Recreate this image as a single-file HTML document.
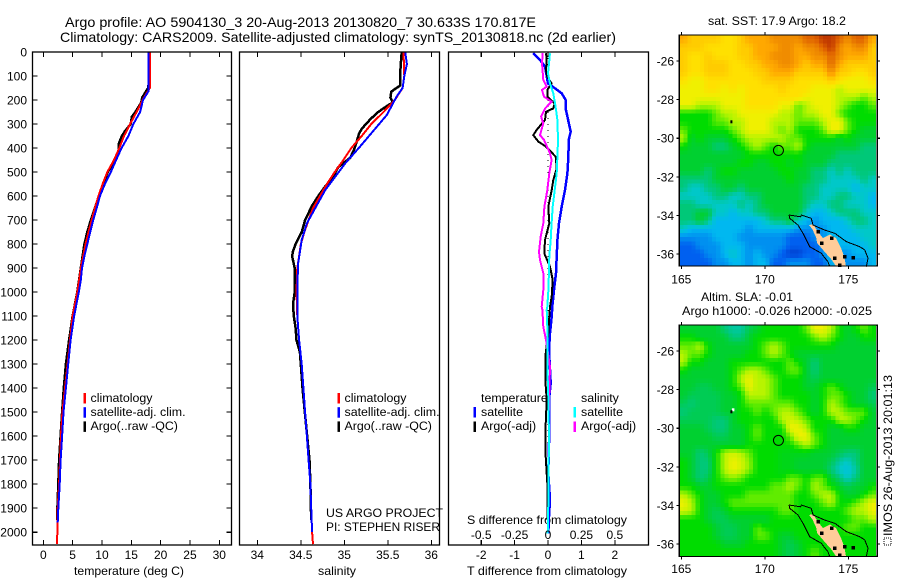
<!DOCTYPE html>
<html>
<head>
<meta charset="utf-8">
<title>Argo profile</title>
<style>
html,body{margin:0;padding:0;background:#fff;width:900px;height:580px;overflow:hidden}
svg{display:block}
text{font-family:"Liberation Sans",sans-serif;font-size:12px;fill:#000}
.lg text{font-size:12.4px}
</style>
</head>
<body>
<svg id="chart" xmlns="http://www.w3.org/2000/svg" width="900" height="580" viewBox="0 0 900 580">
<text x="65" y="27" style="font-size:14px" textLength="471" lengthAdjust="spacingAndGlyphs">Argo profile: AO 5904130_3 20-Aug-2013 20130820_7 30.633S 170.817E</text>
<text x="60" y="42" style="font-size:14px" textLength="556" lengthAdjust="spacingAndGlyphs">Climatology: CARS2009. Satellite-adjusted climatology: synTS_20130818.nc (2d earlier)</text>
<text x="74" y="575" textLength="110" lengthAdjust="spacingAndGlyphs">temperature (deg C)</text>
<text x="318" y="575" textLength="38" lengthAdjust="spacingAndGlyphs">salinity</text>
<text x="467" y="575" textLength="160" lengthAdjust="spacingAndGlyphs">T difference from climatology</text>
<text x="467" y="524" textLength="160" lengthAdjust="spacingAndGlyphs">S difference from climatology</text>
<text x="326" y="517" textLength="117" lengthAdjust="spacingAndGlyphs">US ARGO PROJECT</text>
<text x="326" y="531" textLength="114" lengthAdjust="spacingAndGlyphs">PI: STEPHEN RISER</text>
<text x="708" y="25" textLength="138" lengthAdjust="spacingAndGlyphs">sat. SST: 17.9 Argo: 18.2</text>
<text x="701" y="301" textLength="92" lengthAdjust="spacingAndGlyphs">Altim. SLA: -0.01</text>
<text x="682" y="315" textLength="190" lengthAdjust="spacingAndGlyphs">Argo h1000: -0.026 h2000: -0.025</text>
<text transform="translate(892,536) rotate(-90)" textLength="161" lengthAdjust="spacingAndGlyphs">IMOS 26-Aug-2013 20:01:13</text>
<rect x="884" y="538" width="7" height="7" fill="none" stroke="#000" stroke-width="1" stroke-dasharray="1 1"/>
</svg>
<script>
/* ---------- chart values ---------- */
const depthTicks = [0,100,200,300,400,500,600,700,800,900,1000,1100,1200,1300,1400,1500,1600,1700,1800,1900,2000];
const tempTicks = [0,5,10,15,20,25,30];
const salTicks = [34,34.5,35,35.5,36];
const salTickLabels = ['34','34.5','35','35.5','36'];
const tDiffTicks = [-2,-1,0,1,2];
const sDiffTicks = [-0.5,-0.25,0,0.25,0.5];
const sDiffTickLabels = ['-0.5','-0.25','0','0.25','0.5'];
const lonTicks = [165,170,175];
const latTicks = [-26,-28,-30,-32,-34,-36];

const tempClimDepth = [0,100,150,200,250,300,350,400,450,500,550,600,650,700,750,800,850,900,950,1000,1100,1200,1300,1400,1500,1600,1700,1800,1900,2000,2050];
const tempClim = [18.2,18.2,18.15,16.9,15.9,14.8,13.75,12.95,12.05,10.9,10.1,9.4,8.8,8.25,7.7,7.2,6.8,6.4,6.1,5.8,5.0,4.55,4.15,3.7,3.25,3.0,2.85,2.7,2.45,2.4,2.3];
const tempSatDepth = [0,150,165,200,250,300,350,400,450,500,550,600,650,700,750,800,850,900,950,1000,1100,1200,1300,1400,1500,1600,1700,1800,1900,1960];
const tempSat = [17.9,17.9,17.9,17.0,16.5,15.35,14.5,13.35,12.4,11.5,10.5,9.65,9.1,8.5,8.0,7.5,7.0,6.6,6.4,6.05,5.25,4.65,4.25,3.85,3.45,3.2,2.95,2.8,2.55,2.45];
const tempArgoDepth = [0,100,150,160,190,210,250,270,300,330,350,380,420,450,500,550,600,650,700,750,800,850,900,1000,1100,1200,1300,1400,1500,1600,1700,1800,1900,1950];
const tempArgo = [18.05,18.05,17.9,17.6,16.85,16.7,15.7,15.1,14.9,13.9,13.4,12.9,12.8,12.2,11.0,10.2,9.5,8.8,8.1,7.5,7.0,6.7,6.4,5.8,5.0,4.4,3.85,3.5,3.2,2.95,2.7,2.55,2.4,2.4];

const salClimDepth = [0,100,150,200,250,300,350,400,450,500,550,600,650,700,750,800,850,900,1000,1100,1200,1300,1400,1500,1600,1700,1800,1900,2000,2050];
const salClim = [35.68,35.69,35.67,35.58,35.45,35.31,35.2,35.08,34.99,34.89,34.8,34.72,34.64,34.59,34.54,34.5,34.48,34.46,34.45,34.46,34.48,34.51,34.53,34.55,34.57,34.59,34.61,34.62,34.63,34.64];
const salSatDepth = [0,50,100,150,186,262,394,464,575,713,783,879,977,1100,1200,1300,1400,1500,1600,1700,1800,1900,2000];
const salSat = [35.7,35.72,35.69,35.67,35.6,35.49,35.18,35.01,34.78,34.57,34.51,34.47,34.46,34.46,34.48,34.51,34.53,34.55,34.57,34.59,34.61,34.62,34.63];
const salArgoDepth = [0,50,100,140,150,165,190,210,225,250,280,320,340,400,440,480,520,560,600,640,700,750,800,830,850,900,1000,1050,1100,1150,1200,1250,1300,1400,1700,1800,1950];
const salArgo = [35.66,35.65,35.64,35.64,35.6,35.54,35.53,35.56,35.49,35.39,35.3,35.2,35.17,35.12,35.07,34.93,34.87,34.78,34.7,34.63,34.55,34.51,34.44,34.41,34.4,34.43,34.43,34.41,34.42,34.44,34.45,34.49,34.5,34.52,34.6,34.61,34.62];

const dTSatDepth = [5,33,61,131,151,172,200,242,332,366,436,505,575,644,713,783,921,991,1061,1102,1171,1241,1379,1449,1629,1754,1866,1935,2005];
const dTSat = [-0.44,-0.24,-0.09,0,0.21,0.41,0.53,0.54,0.68,0.62,0.61,0.58,0.51,0.41,0.33,0.28,0.24,0.18,0.13,0.11,0.06,0.03,0.08,0.03,0.03,0.01,0.06,0.03,0.01];
const dTArgoDepth = [5,33,75,103,131,158,186,214,235,249,283,325,346,373,394,436,485,533,575,644,713,783,839,894,949,1019,1061,1102,1171,1269,1366,1449,1588,1685,1796,1852,1950];
const dTArgo = [-0.06,-0.04,-0.06,-0.02,0.11,-0.02,-0.02,0.2,0.16,-0.06,-0.09,-0.34,-0.44,-0.29,-0.06,0.23,0.26,0.16,0.11,0.01,0.04,-0.09,-0.11,0.06,0.14,0.11,0.06,0.04,0.01,-0.08,-0.08,-0.04,-0.08,-0.07,-0.02,-0.02,-0.02];
const dSSatDepth = [5,89,131,172,228,283,366,436,505,575,644,713,783,852,921,991,1061,1074,1144,1311,1449,1588,1727,1866,2005];
const dSSat = [0.015,0,0.015,0.04,0.057,0.07,0.075,0.07,0.065,0.05,0.035,0.027,0.02,0.01,0.007,0.003,-0.005,-0.01,-0.005,-0.005,0.003,0.007,0.005,0.003,-0.002];
const dSArgoDepth = [5,47,117,144,158,186,207,235,269,297,346,366,422,450,505,575,644,713,769,832,866,921,991,1061,1074,1144,1199,1311,1500];
const dSArgo = [-0.04,-0.045,-0.035,-0.01,-0.045,-0.03,0.027,-0.022,-0.052,-0.035,-0.06,-0.03,0.015,0.027,0.01,-0.005,-0.027,-0.035,-0.055,-0.067,-0.06,-0.035,-0.035,-0.047,-0.042,-0.035,-0.015,0.015,0.005];

/* colour-scale levels per grid cell, north to south, west to east */
const sstLevels = [
[13,12,12,12,12,11,11,12,13,13,13,14,14,14,14,15,15,16,16,15,14,15,15,13],
[12,12,12,11,11,11,11,12,12,13,13,13,14,14,13,14,14,15,16,14,13,14,14,12],
[12,11,11,12,11,11,11,12,12,13,13,14,14,14,13,13,14,14,15,14,13,13,13,12],
[12,11,11,12,12,12,11,11,12,12,13,13,14,14,13,12,13,13,15,13,12,12,12,12],
[12,11,11,12,12,12,11,11,11,12,12,13,13,13,12,12,12,12,14,12,12,11,11,12],
[11,10,10,11,11,11,11,11,11,11,12,12,12,12,11,11,11,11,12,11,10,10,10,11],
[10,10,10,11,11,10,11,10,11,11,11,11,12,11,11,11,10,10,10,9,10,10,10,10],
[10,10,10,10,10,10,10,10,11,11,11,11,11,11,11,10,10,10,10,9,9,9,8,9],
[10,10,9,9,9,10,10,10,11,11,11,11,10,10,8,9,10,10,10,9,8,7,7,8],
[7,7,7,7,8,9,9,10,10,10,10,10,9,9,8,9,9,10,10,8,7,7,7,7],
[7,7,7,7,8,8,9,9,10,10,10,9,9,9,8,8,8,9,10,10,8,7,7,7],
[8,7,7,7,7,7,8,9,10,10,10,9,8,9,7,7,7,8,10,10,8,7,6,6],
[9,6,7,6,6,6,7,8,9,9,9,9,9,8,8,7,7,7,7,6,7,6,6,6],
[7,6,6,6,5,5,6,7,8,9,8,7,8,8,9,7,6,6,6,6,6,6,5,5],
[6,6,6,6,6,6,6,6,7,7,7,7,7,7,7,6,6,6,6,5,5,5,5,5],
[6,6,6,6,6,6,6,7,7,6,6,7,7,6,7,6,6,6,5,5,5,5,5,5],
[6,6,6,5,6,7,7,6,6,6,6,6,7,7,6,6,5,5,4,5,4,5,5,5],
[5,5,5,5,6,6,6,6,6,6,6,6,6,7,6,6,5,5,4,4,4,4,5,4],
[5,4,4,5,5,6,6,5,6,6,6,6,6,6,6,5,5,4,4,4,4,3,4,4],
[4,4,4,4,5,5,4,4,5,5,6,6,6,6,6,5,5,4,4,5,5,4,4,3],
[5,5,4,4,4,4,4,5,4,5,6,6,6,6,6,5,4,4,5,5,4,4,4,3],
[5,5,6,6,4,4,3,4,4,5,5,6,6,6,6,4,3,3,4,5,5,5,4,4],
[5,5,6,5,3,3,3,3,3,3,4,5,5,6,4,3,2,3,3,3,4,5,5,4],
[4,3,3,3,3,3,3,3,2,3,3,3,3,3,2,2,2,2,3,3,3,4,4,4],
[2,2,2,2,3,3,3,2,2,2,2,2,2,1,1,1,2,2,3,3,3,3,4,4],
[1,1,2,2,2,3,3,3,2,2,2,2,2,1,1,1,1,2,3,3,3,3,3,4],
[1,1,1,2,2,3,4,3,2,3,2,2,1,0,0,1,1,2,3,2,2,3,3,3],
[1,1,1,1,2,2,3,3,2,3,3,1,1,2,2,2,1,1,3,2,2,2,2,3]
];
const slaLevels = [
[6,6,6,6,6,5,4.5,4.5,5.5,6,7,7,7,7,7,8,10,10,9,7,6,7,8,7],
[7,7,6,6,6,6,5,5,6,7,7,7,7,7,7,7,8,9,8,7,6,6,7,7],
[8,8,9,7,6,6,6,6,6,7,8,9,8,7,7,7,7,7,7,6,6,6,6,6],
[9,8,8,7,6,6,6,6,7,7,8,9,8,7,6,6,6,6,6,6,6,6,6,6],
[9,7,7,6,6,6,7,7,7,7,7,7,7,8,7,6,5,6,6,6,6,6,6,6],
[7,6,6,6,6,6,7,8,9,9,8,7,7,8,8,6,5,6,6,6,6,6,6,6],
[6,6,6,6,6,6,7,9,10,9,9,8,7,7,7,6,5.5,6,6,6,6,6,6,6],
[6,6,5.5,5.5,6,6,7,8,10,9,9,8,7,7,7,6,6,7,8,7,6,6,6,5.5],
[6,5.5,5.5,5.5,5.5,6,6,7,9,9,9,8,7,7,7,7,6,7,8,8,7,6,6,5],
[5.5,5,5.5,5.5,5.5,6,6,7,8,8,8,8,8,8,7,7,6,7,9,8,7,6,6,5.5],
[5,5.5,5.5,5.5,5.5,6,6,7,7,8,7,8,9,9,8,7,6,7,9,9,8,8,8,6],
[5.5,5.5,5.5,5.5,5,5,6,7,7,7,7,7,9,9.5,9,8,7,7,7,9,9,8,7,6],
[6,6,6,5.5,5,5,6,6,7,8,7,7,7,10,10,9,7,7,6,6,7,7,6,6],
[6,6,6,6,5.5,5.5,6,6,7,8,7,7,7,8,10,10,8,7,6,6,6,6,6,6],
[6,6,6,6,6,6,6,6,7,7,7,7,7,7,8,9,8,7,6,6,6,6,6,6],
[6,6,5,5.5,7,9,9.5,9,8,7,7,7,6.5,6.5,6.5,6.5,6,6,6,5.5,5,5,6,6],
[7,6,5,5,7,9,10,9.5,8.5,7,7,7,6.5,6.5,6,6,6,6,5.5,4.5,4,5,6,6],
[7,6,5,5,7,9,10,9.5,8.5,7,7,7,6.5,6.5,6,6,6,6,5,4,3.5,4.5,6,6],
[7,6,5,5.5,7,8,8.5,8,7,7,7,7,7,8,8,7,8,8,6,5,4,5,6,6],
[7,7,6,6,7,7,7,7,7,7,7,8,8,9,8,7,9,8,7,6,5.5,6,6,7],
[9,8,7,6,6,7,7,7,8,8,8,8,8,8,7,7,8,9,9,7,6,6,7,8],
[10,9,7,6,6,7,8,8,8,8,8,8,8,8,7,7,7,8,9,7,7,8,9,10],
[9.5,9,7,6,5.5,6,7,7,7,7,7,7,8,8,7,7,7,7,7,7,8,9,9,10],
[7,7,7,6,5.5,5.5,6,6,6,6,6,7,7,7,7,7,7,7,7,7,7,8,8,9],
[7,7,7,7,6,5.5,5.5,6,6,8,7,7,7,7,7,7,7,7,7,7,8,8,7,7],
[7,7,7,7,6,5.5,5.5,6,6,8,8,7,6,6,7,7,7,7,7,7,7,7,7,7],
[7,7,7,7,7,6,6,6,7,7,7,7,6,5.5,6,7,7,7,7,7,7,7,7,7],
[7,7,7,7,7,7,7,7,7,7,7,7,6,5.5,6,7,8,7,7,7,7,7,7,7]
];

const argoLon = [170.817];
const argoLat = [-30.633];
const landLon = [172.65,172.89,173.19,173.48,173.9,174.26,174.56,174.74,174.86,174.26,174.02,173.6,173.13,173.07,172.83];
const landLat = [-34.5,-34.45,-34.86,-35.17,-34.99,-35.17,-35.69,-36.1,-36.62,-36.62,-36.31,-35.9,-35.43,-35.12,-34.7];
const contourLowerLon = [171.45,171.49,171.99,172.29,172.69,173.38,173.78,173.89];
const contourLowerLat = [-33.98,-34.15,-34.5,-34.93,-35.62,-35.96,-36.4,-36.66];
const contourUpperLon = [171.45,172.15,172.19,172.78,172.89,173.59,174.19,174.88,175.68,175.98,176.18,176.08];
const contourUpperLat = [-33.98,-34.07,-33.98,-34.15,-34.5,-34.76,-34.93,-35.36,-35.62,-35.79,-36.22,-36.66];
const isletLon = [173.2,173.41,174.0,174.2,174.5,175.3,174.8];
const isletLat = [-34.84,-35.44,-35.19,-36.22,-36.57,-36.19,-36.14];
const norfolkLon = [168.0];
const norfolkLat = [-29.15];

/* ---------- axis functions ---------- */
const depthY = d => 52 + d * 0.2401;
const tempX = v => 43.3 + v * 5.867;
const salX = v => 257.3 + (v - 34) * 87;
const tDiffX = v => 548 + v * 33.4;
const sDiffX = v => 548 + v * 133.6;
const lonX = v => 681.3 + (v - 165) * 16.7;
const sstLatY = v => 61 + (-26 - v) * 19.3;
const slaLatY = v => 351 + (-26 - v) * 19.3;

/* ---------- helpers ---------- */
const svg = document.getElementById('chart');
const NS = 'http://www.w3.org/2000/svg';
function mk(tag, attrs, parent) {
  const el = document.createElementNS(NS, tag);
  for (const k in attrs) el.setAttribute(k, attrs[k]);
  (parent || svg).appendChild(el);
  return el;
}
function label(str, x, y, anchor, parent) {
  const t = mk('text', {x: x, y: y, 'text-anchor': anchor}, parent);
  t.textContent = str;
  return t;
}
function pts(xs, ys, fx, fy) {
  return xs.map((v, i) => fx(v).toFixed(1) + ',' + fy(ys[i]).toFixed(1)).join(' ');
}
function seg(x1, y1, x2, y2, parent) {
  return mk('line', {x1: x1, y1: y1, x2: x2, y2: y2, stroke: '#000', 'stroke-width': 1.1, 'shape-rendering': 'crispEdges'}, parent);
}
function series(vals, depths, fx, color, w, parent) {
  return mk('polyline', {points: pts(vals, depths, fx, depthY), fill: 'none', stroke: color, 'stroke-width': w, 'stroke-linejoin': 'miter', 'shape-rendering': 'crispEdges'}, parent);
}
function frame(x, y, w, h, parent) {
  return mk('rect', {x: x, y: y, width: w, height: h, fill: 'none', stroke: '#000', 'stroke-width': 1.3}, parent);
}
function legendBar(x, y, h, color, parent) {
  return mk('rect', {x: x, y: y, width: 2.5, height: h, fill: color}, parent);
}

/* colour scale: level -> colour */
const scaleStops = ['#0040d0','#0060f0','#0090f0','#00b8f0','#00c8c8','#00c878','#00d030','#00dc00','#60ec00','#b8f400','#f0f000','#ffe000','#ffcc00','#ffa800','#f08c00','#e06400','#c03800'];
function hexRgb(h) { return [1,3,5].map(i => parseInt(h.substr(i,2),16)); }
function levelColor(v) {
  const l = Math.max(0, Math.min(scaleStops.length - 1, v));
  const a = Math.floor(l), b = Math.min(scaleStops.length - 1, a + 1), f = l - a;
  const ca = hexRgb(scaleStops[a]), cb = hexRgb(scaleStops[b]);
  return 'rgb(' + ca.map((c, i) => Math.round(c + (cb[i] - c) * f)).join(',') + ')';
}
/* display sampling of a level grid at fractional row/column */
function sampleLevel(levels, r, c) {
  const maxR = levels.length - 1, maxC = levels[0].length - 1;
  const rr = Math.max(0, Math.min(maxR, r)), cc = Math.max(0, Math.min(maxC, c));
  const r0 = Math.floor(rr), c0 = Math.floor(cc);
  const r1 = Math.min(maxR, r0 + 1), c1 = Math.min(maxC, c0 + 1);
  const fr = rr - r0, fc = cc - c0;
  return (levels[r0][c0] * (1 - fc) + levels[r0][c1] * fc) * (1 - fr) + (levels[r1][c0] * (1 - fc) + levels[r1][c1] * fc) * fr;
}

/* ---------- temperature panel ---------- */
const tempPanel = mk('g', {});


const tempArgoLine = series(tempArgo, tempArgoDepth, tempX, '#000', 2.5, tempPanel);


const tempClimLine = series(tempClim, tempClimDepth, tempX, '#f00', 2, tempPanel);


const tempSatLine = series(tempSat, tempSatDepth, tempX, '#00f', 2, tempPanel);


const tempFrame = frame(32.5, 52, 199, 493, tempPanel);


depthTicks.forEach(d => {
  const a = seg(32.5, depthY(d), 37.5, depthY(d), tempPanel);
  
  
  const b = seg(226.5, depthY(d), 231.5, depthY(d), tempPanel);
  
  
  const t = label(String(d), 27, depthY(d) + 4.5, 'end', tempPanel);
  
  
});
tempTicks.forEach(v => {
  const a = seg(tempX(v), 52, tempX(v), 57, tempPanel);
  
  
  const b = seg(tempX(v), 540, tempX(v), 545, tempPanel);
  
  
  const t = label(String(v), tempX(v), 559, 'middle', tempPanel);
  
  
});

/* ---------- salinity panel ---------- */
const salPanel = mk('g', {});


const salArgoLine = series(salArgo, salArgoDepth, salX, '#000', 2.5, salPanel);


const salClimLine = series(salClim, salClimDepth, salX, '#f00', 2, salPanel);


const salSatLine = series(salSat, salSatDepth, salX, '#00f', 2, salPanel);


const salFrame = frame(239.5, 52, 200, 493, salPanel);


salTicks.forEach((v, i) => {
  const a = seg(salX(v), 52, salX(v), 57, salPanel);
  
  
  const b = seg(salX(v), 540, salX(v), 545, salPanel);
  
  
  const t = label(salTickLabels[i], salX(v), 559, 'middle', salPanel);
  
  
});

/* ---------- difference panel ---------- */
const diffPanel = mk('g', {});


const zeroLine = mk('line', {x1: tDiffX(0), y1: 52, x2: tDiffX(0), y2: 545, stroke: '#000', 'stroke-width': 1, 'stroke-dasharray': '1 5'}, diffPanel);


const dTSatLine = series(dTSat, dTSatDepth, tDiffX, '#00f', 2.5, diffPanel);


const dTArgoLine = series(dTArgo, dTArgoDepth, tDiffX, '#000', 2, diffPanel);


const dSArgoLine = series(dSArgo, dSArgoDepth, sDiffX, '#f0f', 2, diffPanel);


const dSSatLine = series(dSSat, dSSatDepth, sDiffX, '#0ff', 2, diffPanel);


const diffFrame = frame(448.5, 52, 200, 493, diffPanel);


tDiffTicks.forEach(v => {
  const a = seg(tDiffX(v), 52, tDiffX(v), 57, diffPanel);
  
  
  const b = seg(tDiffX(v), 540, tDiffX(v), 545, diffPanel);
  
  
  const t = label(v < 0 ? '-' + Math.abs(v) : String(v), tDiffX(v), 559, 'middle', diffPanel);
  
  
});
sDiffTicks.forEach((v, i) => {
  const t = label(sDiffTickLabels[i], sDiffX(v), 539, 'middle', diffPanel);
  
  
});

/* ---------- legends ---------- */
const profileLegendLabels = ['climatology', 'satellite-adj. clim.', 'Argo(..raw -QC)'];
const profileLegendColors = ['#f00', '#00f', '#000'];
[[84, 'temperature'], [338, 'salinity']].forEach(entry => {
  const g = mk('g', {class: 'lg'});
  
  
  profileLegendLabels.forEach((s, i) => {
    const bar = legendBar(entry[0] - 0.5, 393 + i * 14.2, 10.5, profileLegendColors[i], g);
    
    
    const t = label(s, entry[0] + 6.5, 402 + i * 14, 'start', g);
    
    
  });
});
const diffLegendHeads = ['temperature', 'salinity'];
const diffLegendLabels = ['satellite', 'Argo(-adj)'];
const diffLegendColors = [['#00f', '#000'], ['#0ff', '#f0f']];
const diffLegend = mk('g', {class: 'lg'});


[473.5, 573.5].forEach((x, c) => {
  const h = label(diffLegendHeads[c], x + 7.5, 402, 'start', diffLegend);
  
  
  diffLegendLabels.forEach((s, i) => {
    const bar = legendBar(x, 407 + i * 14.5, 10.5, diffLegendColors[c][i], diffLegend);
    
    
    const t = label(s, x + 7.5, 416 + i * 14, 'start', diffLegend);
    
    
  });
});

/* ---------- maps ---------- */
function drawMap(levels, top, height, latY, prefix, labelY, showWhite) {
  const g = mk('g', {});
  
  
  const sub = 2;
  const cols = levels[0].length * sub, rows = levels.length * sub;
  const cellW = 197 / cols, cellH = height / rows;
  for (let r = 0; r < rows; r++) {
    for (let c = 0; c < cols; c++) {
      const v = sampleLevel(levels, (r + 0.5) / sub - 0.5, (c + 0.5) / sub - 0.5);
      const cell = mk('rect', {x: (679.3 + c * cellW).toFixed(2), y: (top + r * cellH).toFixed(2), width: (cellW + 0.4).toFixed(2), height: (cellH + 0.4).toFixed(2), fill: levelColor(v), 'shape-rendering': 'crispEdges'}, g);
      
      
    }
  }
  const land = mk('polygon', {points: pts(landLon, landLat, lonX, latY), fill: '#ffcc99', 'shape-rendering': 'crispEdges'}, g);
  
  
  isletLon.forEach((lon, i) => {
    const s = mk('rect', {x: lonX(lon) - 1.75, y: latY(isletLat[i]) - 1.75, width: 3.5, height: 3.5, fill: '#000', 'shape-rendering': 'crispEdges'}, g);
    
    
  });
  if (showWhite) {
    const w = mk('rect', {x: lonX(norfolkLon[0]) + 0.5, y: latY(norfolkLat[0]) - 3.5, width: 2.5, height: 3, fill: '#fff'}, g);
    
    
  }
  const norfolk = mk('rect', {x: lonX(norfolkLon[0]) - 1, y: latY(norfolkLat[0]) - 1.5, width: 2, height: 3, fill: '#000'}, g);
  
  
  const c1 = mk('polyline', {points: pts(contourLowerLon, contourLowerLat, lonX, latY), fill: 'none', stroke: '#000', 'stroke-width': 1, 'shape-rendering': 'crispEdges'}, g);
  
  
  const c2 = mk('polyline', {points: pts(contourUpperLon, contourUpperLat, lonX, latY), fill: 'none', stroke: '#000', 'stroke-width': 1, 'shape-rendering': 'crispEdges'}, g);
  
  
  const marker = mk('circle', {cx: lonX(argoLon[0]), cy: latY(argoLat[0]), r: 5, fill: 'none', stroke: '#000', 'stroke-width': 1}, g);
  
  
  const edge = mk('rect', {x: 876, y: top + 1, width: 1, height: height - 2, fill: '#fff'}, g);
  
  
  const fr = mk('rect', {x: 679.3, y: top, width: 198, height: height, fill: 'none', stroke: '#000', 'stroke-width': 1.1, 'shape-rendering': 'crispEdges'}, g);
  
  
  lonTicks.forEach(v => {
    const a = seg(lonX(v), top - 3, lonX(v), top, g);
    
    
    const b = seg(lonX(v), top + height, lonX(v), top + height + 3, g);
    
    
    const t = label(String(v), lonX(v), labelY, 'middle', g);
    
    
  });
  latTicks.forEach(v => {
    const a = seg(676.5, latY(v), 679.3, latY(v), g);
    
    
    const b = seg(877.3, latY(v), 880, latY(v), g);
    
    
    const t = label(String(v), 674, latY(v) + 4.5, 'end', g);
    
    
  });
}
drawMap(sstLevels, 35, 231, sstLatY, 'sst', 283.5, false);
drawMap(slaLevels, 325, 231.5, slaLatY, 'sla', 573, true);
</script>
</body>
</html>
